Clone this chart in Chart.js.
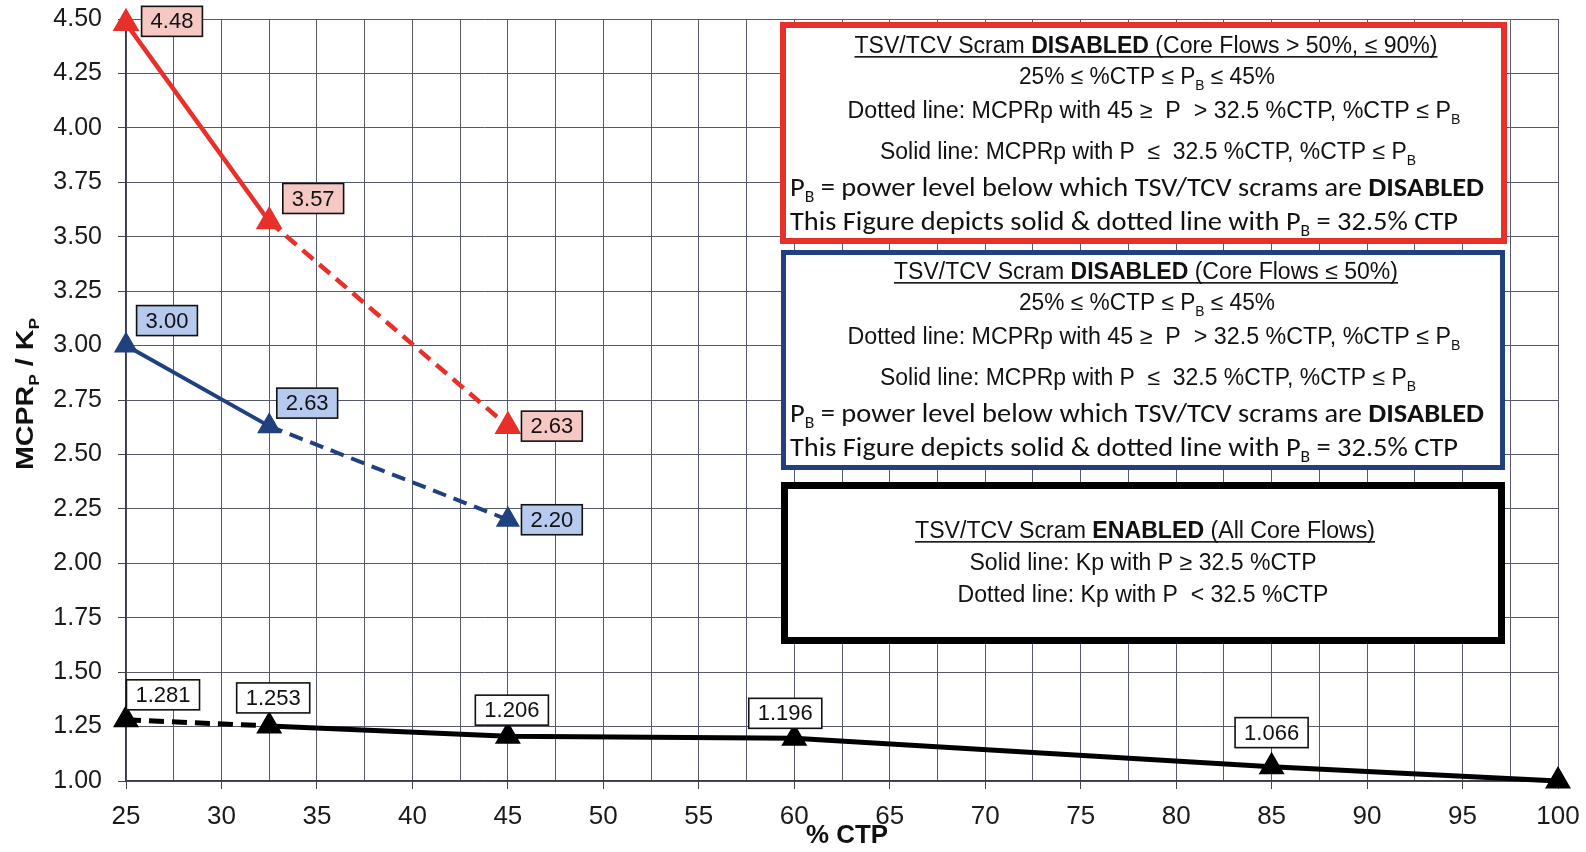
<!DOCTYPE html>
<html>
<head>
<meta charset="utf-8">
<script src="https://cdn.jsdelivr.net/npm/chart.js@4.4.1/dist/chart.umd.min.js"></script>
<style>
  html, body { margin: 0; padding: 0; background: #fff; }
  #wrap { width: 1586px; height: 852px; position: relative; }
</style>
</head>
<body>
<div id="wrap"><canvas id="kpChart"></canvas></div>
<script>
// MCPRp limits (TSV/TCV scram disabled) and Kp (scram enabled) vs % CTP
const mcprCtp = [25, 32.5, 45];
const mcprHighFlow = [4.48, 3.57, 2.63];   // core flows > 50%, <= 90%
const mcprLowFlow = [3.00, 2.63, 2.20];    // core flows <= 50%
const kpCtp = [25, 32.5, 45, 60, 85, 100];
const kpValues = [1.281, 1.253, 1.206, 1.196, 1.066, 1.000];

const xLabelValues = [25, 30, 35, 40, 45, 50, 55, 60, 65, 70, 75, 80, 85, 90, 95, 100];
const yTickValues = [1.00, 1.25, 1.50, 1.75, 2.00, 2.25, 2.50, 2.75, 3.00, 3.25, 3.50, 3.75, 4.00, 4.25, 4.50];

const NARROW = '"Liberation Sans Narrow", "Liberation Sans", Arial, sans-serif';
const SANS = '"Liberation Sans", Arial, sans-serif';
const CALI = 'Carlito, Lato, "Open Sans", sans-serif';

const toXY = (xs, ys) => xs.map((x, i) => ({ x, y: ys[i] }));

function fontFor(flags, size, family) {
  const bold = flags.includes('b') ? 'bold ' : '';
  const s = flags.includes('s') ? Math.round(size * 0.62) : size;
  return `${bold}${s}px ${family}`;
}

// draws one line of mixed normal / bold / subscript text, stretched to width w
function drawRich(ctx, line) {
  const { segs, size, family } = line;
  let natural = 0;
  segs.forEach(([t, f]) => { ctx.font = fontFor(f, size, family); natural += ctx.measureText(t).width; });
  const sx = line.w / natural;
  const left = line.left !== undefined ? line.left : line.cx - line.w / 2;
  const base = line.y + size * 0.35;
  ctx.save();
  ctx.fillStyle = '#111';
  ctx.textAlign = 'left';
  ctx.textBaseline = 'alphabetic';
  ctx.translate(left, base);
  ctx.scale(sx, 1);
  let x = 0;
  segs.forEach(([t, f]) => {
    ctx.font = fontFor(f, size, family);
    ctx.fillText(t, x, f.includes('s') ? size * 0.24 : 0);
    x += ctx.measureText(t).width;
  });
  ctx.restore();
  if (line.underline) {
    ctx.fillStyle = '#111';
    ctx.fillRect(left, base + 3, line.w, 1.6);
  }
}

function disabledLines(title, y0) {
  const d = [0, 31, 65, 106, 142, 176];
  return [
    { segs: [['TSV/TCV Scram ', ''], ['DISABLED', 'b'], [title, '']], cx: 1146, y: y0 + d[0], w: title.includes('90') ? 583 : 504, size: 23, family: NARROW, underline: true },
    { segs: [['25% ≤ %CTP ≤ P', ''], ['B', 's'], [' ≤ 45%', '']], cx: 1147, y: y0 + d[1], w: 256, size: 23, family: NARROW },
    { segs: [['Dotted line: MCPRp with 45 ≥  P  > 32.5 %CTP, %CTP ≤ P', ''], ['B', 's']], cx: 1154, y: y0 + d[2], w: 613, size: 23, family: NARROW },
    { segs: [['Solid line: MCPRp with P  ≤  32.5 %CTP, %CTP ≤ P', ''], ['B', 's']], cx: 1148, y: y0 + d[3], w: 536, size: 23, family: NARROW },
    { segs: [['P', ''], ['B', 's'], [' = power level below which TSV/TCV scrams are ', ''], ['DISABLED', 'b']], left: 790, y: y0 + d[4], w: 694, size: 26, family: CALI },
    { segs: [['This Figure depicts solid & dotted line with P', ''], ['B', 's'], [' = 32.5% CTP', '']], left: 790, y: y0 + d[5], w: 668, size: 26, family: CALI }
  ];
}

const noteBoxes = [
  { x: 780, y: 22, w: 727, h: 222, color: '#e8302a', lw: 6, lines: disabledLines(' (Core Flows > 50%, ≤ 90%)', 45) },
  { x: 781, y: 250, w: 724, h: 220, color: '#21407e', lw: 5, lines: disabledLines(' (Core Flows ≤ 50%)', 271) },
  { x: 781, y: 482, w: 724, h: 162, color: '#000', lw: 7, lines: [
    { segs: [['TSV/TCV Scram ', ''], ['ENABLED', 'b'], [' (All Core Flows)', '']], cx: 1145, y: 530, w: 460, size: 23, family: NARROW, underline: true },
    { segs: [['Solid line: Kp with P ≥ 32.5 %CTP', '']], cx: 1143, y: 562, w: 347, size: 23, family: NARROW },
    { segs: [['Dotted line: Kp with P  < 32.5 %CTP', '']], cx: 1143, y: 594, w: 371, size: 23, family: NARROW }
  ] }
];

const notesPlugin = {
  id: 'notes',
  beforeDatasetsDraw(chart) {
    const { ctx } = chart;
    noteBoxes.forEach(b => {
      ctx.save();
      ctx.fillStyle = '#fff';
      ctx.fillRect(b.x, b.y, b.w, b.h);
      ctx.strokeStyle = b.color;
      ctx.lineWidth = b.lw;
      ctx.strokeRect(b.x + b.lw / 2, b.y + b.lw / 2, b.w - b.lw, b.h - b.lw);
      b.lines.forEach(l => drawRich(ctx, l));
      ctx.restore();
    });
  },
  afterDraw(chart) {
    const { ctx } = chart;
    // y axis title with subscripts
    ctx.save();
    ctx.translate(25, 394);
    ctx.rotate(-Math.PI / 2);
    drawRich(ctx, { segs: [['MCPR', 'b'], ['P', 'bs'], [' / K', 'b'], ['P', 'bs']], cx: 0, y: 0, w: 152, size: 23, family: SANS });
    ctx.restore();
    // x axis title
    drawRich(ctx, { segs: [['% CTP', 'b']], cx: 847, y: 834, w: 82, size: 26, family: NARROW });
  }
};

const valueLabels = {
  id: 'valueLabels',
  afterDatasetsDraw(chart) {
    const { ctx } = chart;
    chart.data.datasets.forEach((ds, i) => {
      const meta = chart.getDatasetMeta(i);
      meta.data.forEach((pt, j) => {
        const off = ds.labelOffsets[j];
        if (!off) return;
        const text = ds.data[j].y.toFixed(ds.labelDigits);
        ctx.save();
        ctx.font = `22px ${NARROW}`;
        const tw = ctx.measureText(text).width;
        const bw = tw + 18, bh = 30;
        const cx = pt.x + off[0], cy = pt.y + off[1];
        ctx.fillStyle = ds.labelFill;
        ctx.fillRect(cx - bw / 2, cy - bh / 2, bw, bh);
        ctx.strokeStyle = '#111';
        ctx.lineWidth = 1.6;
        ctx.strokeRect(cx - bw / 2, cy - bh / 2, bw, bh);
        ctx.fillStyle = '#111';
        ctx.textAlign = 'center';
        ctx.textBaseline = 'middle';
        ctx.fillText(text, cx, cy + 1);
        ctx.restore();
      });
    });
  }
};

const dashAfterFirst = dash => ({ borderDash: c => (c.p0DataIndex >= 1 ? dash : undefined) });

const data = {
  datasets: [
    {
      label: 'MCPRp, core flows > 50%',
      data: toXY(mcprCtp, mcprHighFlow),
      borderColor: '#e8302a', backgroundColor: '#e8302a',
      borderWidth: 4.5, pointStyle: 'triangle', pointRadius: 11,
      segment: dashAfterFirst([14, 8]),
      labelOffsets: [[46, -2], [44, -23], [44, 0]], labelDigits: 2, labelFill: '#f6c8c4'
    },
    {
      label: 'MCPRp, core flows <= 50%',
      data: toXY(mcprCtp, mcprLowFlow),
      borderColor: '#21407e', backgroundColor: '#21407e',
      borderWidth: 4, pointStyle: 'triangle', pointRadius: 10,
      segment: dashAfterFirst([14, 8]),
      labelOffsets: [[41, -25], [38, -23], [44, 0]], labelDigits: 2, labelFill: '#b6c9ef'
    },
    {
      label: 'Kp',
      data: toXY(kpCtp, kpValues),
      borderColor: '#000', backgroundColor: '#000',
      borderWidth: 5, pointStyle: 'triangle', pointRadius: 10,
      segment: { borderDash: c => (c.p0DataIndex === 0 ? [15, 8] : undefined) },
      labelOffsets: [[37, -25], [4, -28], [4, -26], [-9, -25], [0, -34], null], labelDigits: 3, labelFill: '#fff'
    }
  ]
};

const gridColor = '#55586a';

const config = {
  type: 'scatter',
  data,
  options: {
    responsive: true,
    maintainAspectRatio: false,
    animation: false,
    showLine: true,
    clip: false,
    layout: { padding: { top: 19, right: 28, left: 0, bottom: 0 } },
    elements: { line: { tension: 0 } },
    scales: {
      x: {
        type: 'linear', min: 25, max: 100,
        afterBuildTicks: s => {
          const t = [];
          for (let v = 25; v <= 100; v += 2.5) t.push({ value: v });
          s.ticks = t;
        },
        afterFit: s => { s.height = 71; s.paddingLeft = 0; s.paddingRight = 0; },
        ticks: {
          autoSkip: false, maxRotation: 0, padding: 12, color: '#1a1a1a',
          font: { family: SANS, size: 26 },
          callback: v => (xLabelValues.includes(v) ? String(v) : '')
        },
        grid: {
          color: gridColor, lineWidth: 1, tickLength: 8,
          tickColor: c => (c.tick && xLabelValues.includes(c.tick.value) ? '#444' : 'rgba(0,0,0,0)')
        },
        border: { color: '#3a3a48', width: 1.5 }
      },
      y: {
        type: 'linear', min: 1, max: 4.5,
        afterBuildTicks: s => { s.ticks = yTickValues.map(v => ({ value: v })); },
        afterFit: s => { s.width = 126; s.paddingTop = 0; s.paddingBottom = 0; },
        ticks: {
          padding: 16, color: '#1a1a1a',
          font: { family: SANS, size: 25 },
          callback: v => v.toFixed(2)
        },
        grid: { color: gridColor, lineWidth: 1, tickLength: 8, tickColor: '#444' },
        border: { color: '#3a3a48', width: 1.5 }
      }
    },
    plugins: {
      legend: { display: false },
      tooltip: { enabled: false }
    }
  },
  plugins: [notesPlugin, valueLabels]
};

new Chart(document.getElementById('kpChart').getContext('2d'), config);
</script>
</body>
</html>
